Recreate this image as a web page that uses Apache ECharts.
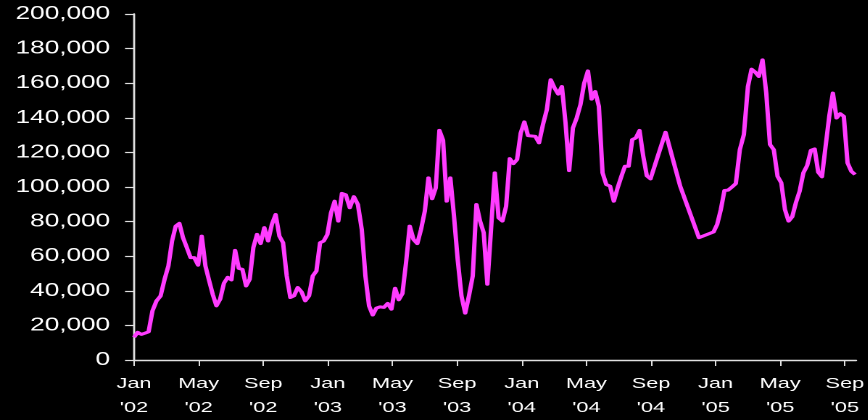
<!DOCTYPE html>
<html>
<head>
<meta charset="utf-8">
<script src="https://cdn.jsdelivr.net/npm/echarts@6/dist/echarts.min.js"></script>
<style>
  html, body { margin: 0; padding: 0; background: #000; overflow: hidden; }
  #chart { height: 420px; transform-origin: 0 0; }
</style>
</head>
<body>
<div id="chart"></div>
<script>
// Weekly volume, Jan 2002 – Sep 2005. Each reading is tied to a week number
// counted from the start date; a few weeks are missing in the series.
const startDate = '2002-01-01';
const weekNo = [
  0, 1, 2, 3, 4, 5, 6, 7, 8, 9, 10, 11, 12, 13, 14, 15, 16, 17, 18, 19,
  20, 21, 22, 23, 24, 25, 26, 27, 28, 29, 30, 31, 32, 33, 34, 35, 36, 37, 38, 39,
  40, 41, 42, 43, 44, 45, 46, 47, 48, 49, 50, 51, 52, 53, 54, 55, 56, 57, 58, 59,
  60, 61, 62, 63, 64, 65, 66, 67, 68, 69, 70, 71, 72, 73, 74, 75, 76, 77, 78, 79,
  80, 81, 82, 83, 84, 85, 86, 87, 88, 89, 90, 91, 92, 93, 94, 95, 97, 98, 99,
  100, 101, 102, 103, 104, 105, 106, 107, 108, 109, 110, 111, 112, 113, 114, 115, 116, 117, 118, 119,
  120, 121, 122, 123, 124, 125, 126, 127, 128, 129, 130, 131, 132, 133, 134, 135, 136, 137, 138, 139,
  143, 147, 152, 156, 157, 158, 159,
  160, 161, 162, 163, 164, 165, 166, 167, 168, 169, 170, 171, 172, 173, 174, 175, 176, 177, 178, 179,
  180, 181, 182, 183, 184, 185, 186, 187, 188, 189, 190, 191, 192, 193, 194
];
const volume = [
  13100, 16000, 14800, 15500, 16300, 28400, 34200, 37000, 46700, 54400,
  68800, 77400, 79000, 70700, 65000, 59200, 59200, 54800, 71600, 54400,
  46000, 38000, 31300, 35200, 44400, 47800, 46300, 63400, 53000, 52400,
  42800, 46700, 65000, 72600, 67300, 76500, 68800, 78400, 84100, 71600,
  67800, 48600, 36100, 37100, 41900, 39400, 34200, 37100, 48600, 51500,
  67800, 68800, 72600, 85100, 91800, 80300, 96300, 95500, 88000, 94400,
  89900, 75500, 48600, 31300, 26000, 30000, 30700, 30400, 32700, 29400,
  41500, 34800, 38400, 56300, 77400, 69700, 67300, 75500, 86000, 105300,
  93200, 99500, 132700, 127000, 91800, 105300, 83200, 58200, 37100, 27100,
  37100, 48600, 89900, 80300, 73600, 43800, 108200, 82200, 80300,
  88900, 116400, 113500, 115900, 131200, 137600, 129700, 129500, 129300, 125500,
  136000, 144700, 162000, 157200, 153700, 158100, 137000, 109500, 134100, 139900,
  147600, 160000, 167100, 150800, 155200, 146600, 108200, 101400, 100500, 91800,
  99500, 106000, 112000, 112000, 127400, 128400, 132700, 118000, 106500, 104700,
  131600, 100500, 70700, 74000, 78400, 87000, 98000,
  98200, 99900, 102000, 121600, 130300, 158100, 168100, 166400, 163900, 173500,
  154300, 124500, 121600, 106200, 102400, 87000, 80300, 82800, 90900, 97600,
  108200, 112400, 121200, 122000, 108500, 105900, 123500, 140800, 154300, 139900,
  142400, 140800, 113900, 109100, 107200
];

// Axis ticks: every four months, counted in months from Jan 2002.
const xTickMonths = [0, 4, 8, 12, 16, 20, 24, 28, 32, 36, 40, 44];
const xTickLabels = [
  "Jan\n'02", "May\n'02", "Sep\n'02", "Jan\n'03", "May\n'03", "Sep\n'03",
  "Jan\n'04", "May\n'04", "Sep\n'04", "Jan\n'05", "May\n'05", "Sep\n'05"
];
const xAxisEnd = 44.7;
const yMin = 0, yMax = 200000, yStep = 20000;

// Convert a date to a fractional month index measured from January 2002.
function monthIndex(ms) {
  const d = new Date(ms);
  const y = d.getUTCFullYear(), m = d.getUTCMonth(), day = d.getUTCDate();
  const daysInMonth = new Date(Date.UTC(y, m + 1, 0)).getUTCDate();
  return (y - 2002) * 12 + m + (day - 1) / daysInMonth;
}

const start = Date.parse(startDate + 'T00:00:00Z');
const points = weekNo.map((w, i) => [monthIndex(start + w * 7 * 86400000), volume[i]]);

// The chart is drawn on a narrower canvas and widened with a horizontal
// stretch, which gives the broad lettering of the original slide.
const PAGE_W = 868;
const SX = 1.45;
const dom = document.getElementById('chart');
dom.style.width = (PAGE_W / SX) + 'px';
dom.style.transform = 'scaleX(' + SX + ')';

const font = 'Arial, "Liberation Sans", Helvetica, sans-serif';
const axisColor = '#e0e0e0';

const chart = echarts.init(dom, null, { renderer: 'canvas', devicePixelRatio: 2 });
chart.setOption({
  backgroundColor: '#000000',
  animation: false,
  grid: { left: 134 / SX, right: 12 / SX, top: 14, bottom: 59, containLabel: false },
  xAxis: {
    type: 'value',
    min: 0,
    max: xAxisEnd,
    splitLine: { show: false },
    axisLine: { show: true, lineStyle: { color: axisColor, width: 1.4 } },
    axisTick: {
      show: true, length: 6, inside: false,
      customValues: xTickMonths,
      lineStyle: { color: axisColor, width: 1 }
    },
    axisLabel: {
      customValues: xTickMonths,
      formatter: v => xTickLabels[xTickMonths.indexOf(Math.round(v))] || '',
      color: '#ffffff',
      fontFamily: font,
      fontSize: 15,
      lineHeight: 24,
      margin: 12
    }
  },
  yAxis: {
    type: 'value',
    min: yMin,
    max: yMax,
    interval: yStep,
    splitLine: { show: false },
    axisLine: { show: true, lineStyle: { color: axisColor, width: 1.4 } },
    axisTick: { show: true, length: 9 / SX, inside: false, lineStyle: { color: axisColor, width: 1.2 } },
    axisLabel: {
      formatter: v => v.toLocaleString('en-US'),
      color: '#ffffff',
      fontFamily: font,
      fontSize: 18,
      margin: 24 / SX
    }
  },
  series: [{
    type: 'line',
    data: points,
    symbol: 'none',
    smooth: false,
    lineStyle: { color: '#ff3cff', width: 3, join: 'round' },
    itemStyle: { color: '#ff3cff' }
  }]
});
</script>
</body>
</html>
